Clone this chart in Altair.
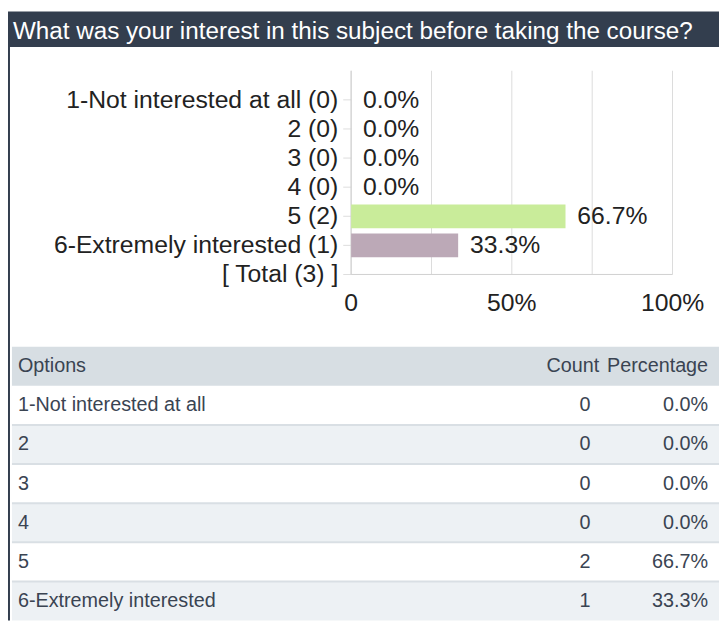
import altair as alt
import pandas as pd

# ---------------- data ----------------
title_text = "What was your interest in this subject before taking the course?"
options = ["1-Not interested at all", "2", "3", "4", "5", "6-Extremely interested"]
counts = [0, 0, 0, 0, 2, 1]
percents = [0.0, 0.0, 0.0, 0.0, 66.7, 33.3]
grid_values = [0, 25, 50, 75, 100]
x_tick_values = [0, 50, 100]
x_tick_labels = ["0", "50%", "100%"]
table_columns = ["Options", "Count", "Percentage"]

# ---------------- styles ----------------
FONT = "Liberation Sans, Arial, Helvetica, sans-serif"
DARK = "#333e4e"
TEXT = "#222222"
TABLE_TEXT = "#3a4452"
GRID = "#dcdcdc"
BAR_COLORS = ["#9fc5e8", "#f4b183", "#ffd966", "#a9d18e", "#c9ec9a", "#bca9b7"]
CHART_FS = 25
TABLE_FS = 20
W, H = 719, 616

XS = alt.Scale(domain=[0, 100], range=[347, 672], nice=False, zero=False)
YS = alt.Scale(domain=[-1, 6], range=[55, 271], nice=False, zero=False)
TS = alt.Scale(domain=[-1, 6], range=[339, 616], nice=False, zero=False)

total = sum(counts)
chart_labels = [f"{o} ({c})" for o, c in zip(options, counts)] + [f"[ Total ({total}) ]"]
pct_texts = [f"{p:.1f}%" for p in percents]

bars_df = pd.DataFrame({
    "idx": list(range(len(options))),
    "option": options,
    "pct": percents,
    "pct_text": pct_texts,
})
labels_df = pd.DataFrame({"idx": list(range(len(chart_labels))), "label": chart_labels})
grid_df = pd.DataFrame({"g": grid_values})
xlab_df = pd.DataFrame({"v": x_tick_values, "t": x_tick_labels})
one_df = pd.DataFrame({"t": [title_text]})

rows = []
col_values = [options, [str(c) for c in counts], pct_texts]
for col, header, vals in zip(range(3), table_columns, col_values):
    rows.append({"col": col, "row": -1, "text": header})
    for r, v in enumerate(vals):
        rows.append({"col": col, "row": r, "text": v})
table_df = pd.DataFrame(rows)
body_df = pd.DataFrame({"row": list(range(len(options)))})


def txt(**kw):
    base = dict(font=FONT)
    base.update(kw)
    return base


# ---------------- header & frame ----------------
header_rect = alt.Chart(one_df).mark_rect(color=DARK).encode(
    x=alt.value(0), x2=alt.value(W), y=alt.value(0), y2=alt.value(36)
)
header_text = alt.Chart(one_df).mark_text(
    **txt(align="left", baseline="alphabetic", color="white", fontSize=24.5)
).encode(x=alt.value(5), y=alt.value(28), text="t:N")
left_border = alt.Chart(one_df).mark_rect(color=DARK).encode(
    x=alt.value(0), x2=alt.value(2), y=alt.value(36), y2=alt.value(H)
)

# ---------------- bar chart ----------------
gridlines = alt.Chart(grid_df).mark_rule(color=GRID, strokeWidth=1).encode(
    x=alt.X("g:Q", scale=XS, axis=None),
    y=alt.YDatum(-1, axis=None),
    y2=alt.Y2Datum(6),
)
bottom_axis = alt.Chart(one_df).mark_rule(color="#cfcfcf", strokeWidth=1).encode(
    x=alt.XDatum(0, axis=None), x2=alt.X2Datum(100), y=alt.YDatum(6, axis=None)
)
left_axis = alt.Chart(one_df).mark_rule(color="#cfcfcf", strokeWidth=1).encode(
    x=alt.XDatum(0, axis=None), y=alt.YDatum(-1, axis=None), y2=alt.Y2Datum(6)
)
yticks = alt.Chart(labels_df).mark_tick(
    orient="horizontal", size=8, thickness=1, xOffset=-4, color="#cfcfcf"
).encode(x=alt.XDatum(0, axis=None), y=alt.Y("idx:Q", scale=YS, axis=None))

bars = alt.Chart(bars_df).mark_bar(orient="horizontal", size=24).encode(
    x=alt.X("pct:Q", scale=XS, axis=None),
    x2=alt.X2Datum(0),
    y=alt.Y("idx:Q", scale=YS, axis=None),
    color=alt.Color("option:N", scale=alt.Scale(domain=options, range=BAR_COLORS), legend=None),
)
pct_labels = alt.Chart(bars_df).mark_text(
    **txt(align="left", baseline="middle", dx=12, fontSize=CHART_FS, color=TEXT)
).encode(
    x=alt.X("pct:Q", scale=XS, axis=None),
    y=alt.Y("idx:Q", scale=YS, axis=None),
    text="pct_text:N",
)
y_labels = alt.Chart(labels_df).mark_text(
    **txt(align="right", baseline="middle", dx=-13, fontSize=CHART_FS, color=TEXT)
).encode(
    x=alt.XDatum(0, axis=None),
    y=alt.Y("idx:Q", scale=YS, axis=None),
    text="label:N",
)
x_labels = alt.Chart(xlab_df).mark_text(
    **txt(align="center", baseline="middle", dy=29, fontSize=CHART_FS, color=TEXT)
).encode(
    x=alt.X("v:Q", scale=XS, axis=None),
    y=alt.YDatum(6, axis=None),
    text="t:N",
)

top = alt.layer(
    header_rect, header_text, left_border, gridlines, left_axis, bottom_axis,
    yticks, bars, pct_labels, y_labels, x_labels,
)

# ---------------- table ----------------
stripes = alt.Chart(body_df).transform_filter("datum.row % 2 == 1").transform_calculate(
    row1="datum.row + 1"
).mark_rect(color="#edf1f4").encode(
    x=alt.value(4), x2=alt.value(W),
    y=alt.Y("row:Q", scale=TS, axis=None), y2="row1:Q",
)
thead = alt.Chart(one_df).mark_rect(color="#d7dee3").encode(
    x=alt.value(4), x2=alt.value(W), y=alt.YDatum(-1, axis=None), y2=alt.Y2Datum(0)
)
seps = alt.Chart(body_df).transform_filter("datum.row > 0").mark_rule(
    color="#d9dfe4", strokeWidth=2
).encode(x=alt.value(4), x2=alt.value(W), y=alt.Y("row:Q", scale=TS, axis=None))

# (header x, body x, align) per column
col_x_head = [10, 598, 708]
col_x_body = [10, 589, 708]
col_align = ["left", "right", "right"]
col_layers = []
for c in range(3):
    for is_head, xs in ((True, col_x_head), (False, col_x_body)):
        cond = f"datum.col == {c} && datum.row {'<' if is_head else '>='} 0"
        col_layers.append(
            alt.Chart(table_df).transform_filter(cond).transform_calculate(
                mid="datum.row + 0.5"
            ).mark_text(
                **txt(align=col_align[c], baseline="middle", fontSize=TABLE_FS, color=TABLE_TEXT)
            ).encode(
                x=alt.value(xs[c]),
                y=alt.Y("mid:Q", scale=TS, axis=None),
                text="text:N",
            )
        )

table = alt.layer(stripes, thead, seps, *col_layers)

chart = alt.layer(top, table).resolve_scale(x="independent", y="independent").properties(
    width=W, height=H, autosize=alt.AutoSizeParams(type="none"), padding=0, background="white"
).configure_view(stroke=None)

chart.save("out.html", embed_options={"renderer": "svg", "actions": False})
